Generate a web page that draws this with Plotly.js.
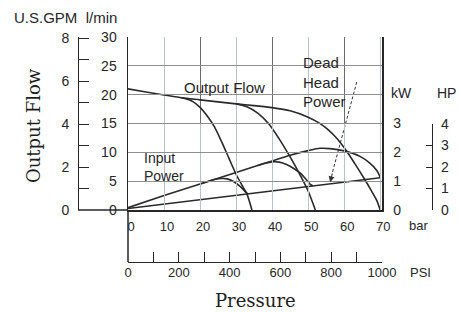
<!DOCTYPE html>
<html><head><meta charset="utf-8">
<script src="https://cdn.plot.ly/plotly-3.0.1.min.js"></script>
<style>html,body{margin:0;padding:0;background:#fff}#chart{width:460px;height:312px}</style>
</head><body><div id="chart"></div>
<script>
// ---- data (pressure in bar, flow in l/min, power in kW) ----
const flowMainBar  = [0,5,10,15,20,25,30,35,40,45,50,53,55.6,58,60.7,63,65.5,67.5,69,70];
const flowMainLmin = [21.0,20.45,19.95,19.45,19.1,18.75,18.4,18.1,17.75,17.2,16.1,15.1,13.9,12.4,10.2,8.0,5.5,3.4,1.7,0];
const flow35Bar  = [15,18,20,22,24,26,28,30,32,33,34.4];
const flow35Lmin = [19.45,18.8,17.8,16.3,14.4,11.8,9.0,6.2,3.9,2.8,0];
const flow52Bar  = [30,33,36,39,42,45,48,50,52];
const flow52Lmin = [18.4,17.9,16.8,15.0,12.3,9.2,5.8,3.3,0];
const powerMainBar = [0,10,20,30,40,45,50,53.3,56,60,64.4,67.2,69,70];
const powerMainKw  = [0.08,0.5,0.9,1.3,1.7,1.9,2.06,2.14,2.13,2.05,1.86,1.62,1.38,1.14];
const power35Bar = [20,22,24,26,27.5,29.3,31.1,32.5,33.3];
const power35Kw  = [0.9,0.98,1.055,1.09,1.08,0.99,0.82,0.64,0.56];
const power52Bar = [36,38,40,42,44,46,48,49.5,50.6,51.3];
const power52Kw  = [1.54,1.62,1.67,1.66,1.58,1.44,1.26,1.05,0.89,0.84];
const deadHeadBar = [0,70];
const deadHeadKw  = [0.05,1.12];
const arrowBar  = [63.5,56.6];
const arrowLmin = [22.2,6.2];
const arrowTip  = [56.1,4.8];

const barTicks  = [0,10,20,30,40,50,60,70];
const barMajorGrid = [20,40,60];
const psiTicks  = [0,100,200,300,400,500,600,700,800,900,1000];
const psiLabels = ['0','','200','','400','','600','','800','','1000'];
const lminTicks = [0,5,10,15,20,25,30];
const gpmTicks  = [0,1,2,3,4,5,6,7,8];
const gpmLabels = ['0','','2','','4','','6','','8'];
const kwTicks   = [0,1,2,3];
const hpTicks   = [0,1,2,3,4];

// ---- styling ----
const SANS = 'Liberation Sans, Arial, Helvetica, sans-serif';
const SERIF = 'DejaVu Serif, serif';
const ink = '#262626';
const lineStyle = {color:'#2a2a2a', width:1.6, shape:'spline', smoothing:0.8};

function curve(x, y, yax) {
  return {x:x, y:y, yaxis:yax, xaxis:'x', mode:'lines', line:lineStyle, hoverinfo:'skip', showlegend:false};
}
function dummy(xa, ya) {
  return {x:[null], y:[null], xaxis:xa, yaxis:ya, mode:'lines', hoverinfo:'skip', showlegend:false};
}

const traces = [
  curve(flowMainBar, flowMainLmin, 'y'),
  curve(flow35Bar, flow35Lmin, 'y'),
  curve(flow52Bar, flow52Lmin, 'y'),
  curve(powerMainBar, powerMainKw, 'y2'),
  curve(power35Bar, power35Kw, 'y2'),
  curve(power52Bar, power52Kw, 'y2'),
  {x:deadHeadBar, y:deadHeadKw, xaxis:'x', yaxis:'y2', mode:'lines', line:{color:'#2a2a2a', width:1.6}, hoverinfo:'skip', showlegend:false},
  {x:arrowBar, y:arrowLmin, xaxis:'x', yaxis:'y', mode:'lines', line:{color:'#333', width:1, dash:'3px,2px'}, hoverinfo:'skip', showlegend:false},
  dummy('x2','y'), dummy('x3','y'), dummy('x','y3'), dummy('x','y4')
];

const W = 354, H = 225;           // plot-area size in px (margins below)
const xL = 50/W, xR = 304/W;      // bar-axis domain
const yB = 52/H;                  // bottom of main y domain
function px(x) { return (x-78)/W; }
function py(y) { return (262-y)/H; }
function label(text, x, y, size, extra) {
  return Object.assign({text:text, xref:'paper', yref:'paper', x:px(x), y:py(y), xanchor:'center', yanchor:'middle',
    showarrow:false, font:{size:size}}, extra || {});
}

const layout = {
  width:460, height:312,
  margin:{l:78, r:28, t:37, b:50},
  paper_bgcolor:'#ffffff', plot_bgcolor:'rgba(0,0,0,0)',
  showlegend:false,
  font:{family:SANS, size:14, color:ink},
  xaxis:{domain:[xL,xR], range:[0,70.5], anchor:'y', showline:true, linecolor:ink, linewidth:1.5,
         tickvals:barTicks, ticks:'', showgrid:true, gridcolor:'#b7c2cc', gridwidth:1, zeroline:false,
         tickfont:{size:13}, ticklabelstandoff:4, ticklabelshift:3, automargin:false},
  xaxis2:{domain:[xL,xR], range:[0,1000], anchor:'free', position:0, showline:true, linecolor:ink, linewidth:1.2,
          tickvals:psiTicks, ticktext:psiLabels, ticks:'inside', ticklen:10, tickcolor:ink, tickwidth:1,
          showgrid:false, zeroline:false, tickfont:{size:13}, ticklabelstandoff:-2, automargin:false},
  xaxis3:{overlaying:'x', range:[0,70.5], anchor:'y', tickvals:barMajorGrid, showticklabels:false,
          showgrid:true, gridcolor:'#6c6c6c', gridwidth:1, zeroline:false, showline:false, ticks:''},
  yaxis:{domain:[yB,1], range:[0,30], anchor:'x', side:'left', showline:true, linecolor:ink, linewidth:1.5,
         tickvals:lminTicks, ticks:'', showgrid:true, gridcolor:'#8e8e8e', gridwidth:1, zeroline:false,
         ticklabelstandoff:7, automargin:false},
  yaxis2:{overlaying:'y', side:'right', anchor:'x', range:[0,6], tickvals:kwTicks, showline:true,
          linecolor:ink, linewidth:1.5, showgrid:false, zeroline:false, ticks:'', ticklabelstandoff:7, automargin:false},
  yaxis3:{overlaying:'y', side:'left', anchor:'free', position:0, range:[0,8.047], tickvals:gpmTicks,
          ticktext:gpmLabels, ticks:'inside', ticklen:10, tickcolor:ink, tickwidth:1, showline:true,
          linecolor:ink, linewidth:1.2, showgrid:false, zeroline:false, ticklabelstandoff:6, automargin:false},
  yaxis4:{domain:[yB, yB + 86/H], anchor:'free', position:1, side:'right', range:[0,4], tickvals:hpTicks,
          ticks:'inside', ticklen:6, tickcolor:ink, tickwidth:1, showline:true, linecolor:ink, linewidth:1.2,
          showgrid:false, zeroline:false, ticklabelstandoff:5, automargin:false},
  shapes:[
    {type:'line', xref:'paper', yref:'paper', x0:xL, x1:xL, y0:0, y1:yB, line:{color:ink, width:1.5}},
    {type:'line', xref:'paper', yref:'paper', x0:0, x1:xL, y0:yB, y1:yB, line:{color:ink, width:1.5}}
  ],
  annotations:[
    label('U.S.GPM  l/min', 65, 17, 15),
    label('Output Flow', 33, 126, 18, {textangle:-90, font:{family:SERIF, size:18, color:'#1e1e1e'}}),
    label('Pressure', 255, 300, 18, {font:{family:SERIF, size:18, color:'#1e1e1e'}}),
    label('bar', 418, 225, 13),
    label('PSI', 420, 272, 13),
    label('kW', 401, 93, 14),
    label('HP', 446, 93, 14),
    {text:'Output Flow', xref:'x', yref:'y', x:26.9, y:21.2, xanchor:'center', yanchor:'middle', showarrow:false, font:{size:15}},
    {text:'Input<br>Power', xref:'x', yref:'y', x:4.0, y:7.4, xanchor:'left', yanchor:'middle', align:'left', showarrow:false, font:{size:14}},
    {text:'Dead<br>Head<br>Power', xref:'x', yref:'y', x:48.0, y:22.2, xanchor:'left', yanchor:'middle', align:'left', showarrow:false, font:{size:15}},
    {text:'', xref:'x', yref:'y', x:arrowTip[0], y:arrowTip[1], ax:2.5, ay:-10, showarrow:true,
     arrowhead:2, arrowsize:1.2, arrowwidth:1, arrowcolor:'#333'}
  ]
};

Plotly.newPlot('chart', traces, layout, {staticPlot:true, displayModeBar:false});
</script>
</body></html>
